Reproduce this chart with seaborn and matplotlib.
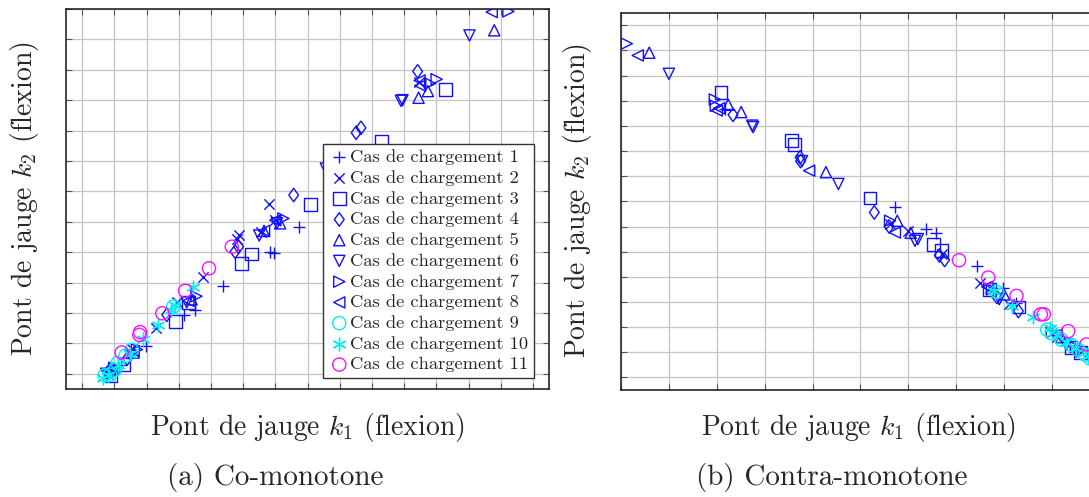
import matplotlib
matplotlib.use("Agg")
import matplotlib.pyplot as plt
from matplotlib.markers import MarkerStyle
from matplotlib.path import Path
import seaborn as sns
import pandas as pd

# ---------------- data (grid-tick units) ----------------
labels = [f"Cas de chargement {i}" for i in range(1, 12)]

# (a) Co-monotone
co1_x = [6.75, 5.84, 5.96, 4.39, 3.51, 3.18, 1.99, 1.20, 0.90]
co1_y = [4.84, 4.00, 3.99, 2.90, 2.10, 1.94, 0.90, 0.30, 0.10]
co2_x = [10.47, 5.79, 6.00, 5.55, 4.86, 4.80, 3.74, 2.95, 2.30, 1.55, 1.00, 0.80]
co2_y = [9.60, 5.57, 5.05, 4.65, 4.56, 4.45, 3.20, 2.35, 1.50, 0.80, 0.20, 0.00]
co3_x = [11.28, 9.31, 7.09, 5.27, 4.96, 2.89, 3.30, 1.30, 0.90]
co3_y = [9.35, 7.63, 5.57, 3.94, 3.64, 1.72, 2.35, 0.30, -0.05]
co4_x = [10.42, 8.51, 8.66, 6.57, 4.86, 4.75, 2.63, 1.40, 0.80]
co4_y = [9.95, 7.93, 8.09, 5.88, 4.18, 4.02, 1.94, 0.50, 0.05]
co5_x = [12.80, 10.74, 10.45, 6.15, 5.65, 3.40, 1.60, 0.90]
co5_y = [11.30, 9.30, 9.08, 4.95, 4.70, 2.45, 0.70, 0.10]
co6_x = [12.03, 9.90, 9.95, 7.57, 6.05, 5.50, 3.25, 1.50, 0.75]
co6_y = [11.13, 8.98, 9.00, 6.75, 4.95, 4.55, 2.35, 0.60, 0.00]
co7_x = [13.24, 11.01, 10.81, 6.25, 3.55, 1.70, 1.00]
co7_y = [11.92, 9.69, 9.55, 5.11, 2.55, 0.80, 0.20]
co8_x = [12.72, 10.48, 10.50, 6.00, 5.65, 3.30, 1.60, 0.85]
co8_y = [11.90, 9.65, 9.48, 5.05, 4.70, 2.40, 0.75, 0.10]
co9_x = [1.54, 1.35, 1.10, 1.02, 0.87, 0.70, 2.83]
co9_y = [0.79, 0.60, 0.35, 0.13, -0.03, -0.05, 2.21]
co10_x = [3.43, 2.89, 2.75, 2.37, 1.90, 1.50, 1.10, 0.80, 0.65]
co10_y = [2.87, 2.27, 2.10, 1.61, 1.15, 0.65, 0.30, -0.05, -0.15]
co11_x = [4.65, 3.94, 3.20, 2.49, 1.78, 1.80, 1.23]
co11_y = [4.18, 3.47, 2.73, 1.99, 1.28, 1.37, 0.70]

# (b) Contra-monotone
ct1_x = [2.17, 5.72, 6.38, 6.58, 7.44, 7.98, 8.25, 9.00]
ct1_y = [10.68, 6.76, 5.92, 5.74, 4.41, 3.57, 2.95, 1.90]
ct2_x = [5.62, 6.00, 6.70, 7.49, 7.70, 8.10, 9.10, 9.60]
ct2_y = [6.10, 5.83, 4.90, 3.77, 3.55, 2.90, 1.60, 1.00]
ct3_x = [2.09, 3.56, 3.62, 5.20, 6.52, 6.69, 7.70, 8.30, 9.40, 9.60]
ct3_y = [11.34, 9.41, 9.25, 7.13, 5.30, 5.03, 3.51, 2.80, 1.20, 1.00]
ct4_x = [2.34, 3.74, 3.75, 5.29, 5.60, 6.65, 6.76, 7.85, 8.30, 9.50]
ct4_y = [10.44, 8.75, 8.60, 6.56, 6.00, 4.85, 4.67, 3.20, 2.64, 1.10]
ct5_x = [0.59, 2.24, 2.51, 4.28, 5.77, 6.05, 8.00, 9.20]
ct5_y = [12.91, 10.84, 10.55, 8.16, 6.23, 5.75, 3.30, 1.60]
ct6_x = [1.00, 2.74, 2.76, 3.78, 4.54, 6.14, 6.20, 7.90, 9.30]
ct6_y = [12.07, 10.01, 9.95, 8.60, 7.69, 5.43, 5.50, 3.11, 1.30]
ct7_x = [0.12, 1.96, 1.98, 5.62, 7.75, 9.00, 9.50]
ct7_y = [13.27, 11.05, 10.80, 6.23, 3.50, 1.80, 1.20]
ct8_x = [0.35, 2.00, 2.05, 3.93, 5.72, 7.65, 9.10]
ct8_y = [12.80, 10.61, 10.70, 8.22, 5.76, 3.60, 1.70]
ct9_x = [7.85, 8.90, 9.00, 9.20, 9.40, 9.55, 9.70, 9.80]
ct9_y = [3.40, 1.90, 1.75, 1.50, 1.30, 1.10, 0.90, 0.75]
ct10_x = [8.16, 8.61, 7.80, 8.95, 9.10, 9.30, 9.50, 9.75]
ct10_y = [2.84, 2.40, 3.45, 1.95, 1.70, 1.40, 1.15, 0.85]
ct11_x = [7.06, 7.67, 8.26, 8.77, 8.83, 9.34, 9.72]
ct11_y = [4.66, 3.97, 3.24, 2.51, 2.51, 1.84, 1.31]

co_xs = [co1_x, co2_x, co3_x, co4_x, co5_x, co6_x, co7_x, co8_x, co9_x, co10_x, co11_x]
co_ys = [co1_y, co2_y, co3_y, co4_y, co5_y, co6_y, co7_y, co8_y, co9_y, co10_y, co11_y]
ct_xs = [ct1_x, ct2_x, ct3_x, ct4_x, ct5_x, ct6_x, ct7_x, ct8_x, ct9_x, ct10_x, ct11_x]
ct_ys = [ct1_y, ct2_y, ct3_y, ct4_y, ct5_y, ct6_y, ct7_y, ct8_y, ct9_y, ct10_y, ct11_y]

# ---------------- styles ----------------
BLUE, CYAN, MAG = "#1010ff", "#00f0f0", "#ff10ff"
colors = [BLUE] * 8 + [CYAN, CYAN, MAG]
diamond = Path([(0, 1), (0.72, 0), (0, -1), (-0.72, 0), (0, 1)],
               [Path.MOVETO, Path.LINETO, Path.LINETO, Path.LINETO, Path.CLOSEPOLY])
markers = ["+", "x", "s", diamond, "^", "v", ">", "<", "o", (6, 2, 0), "o"]
sizes = [85, 55, 85, 95, 65, 65, 65, 65, 90, 85, 90]

sns.set_theme(style="ticks")
plt.rcParams["font.family"] = ["cmr10", "DejaVu Serif"]
plt.rcParams["mathtext.fontset"] = "cm"
plt.rcParams["axes.unicode_minus"] = False

fig = plt.figure(figsize=(10.89, 4.97), dpi=100)
axA = fig.add_axes([66 / 1089, 1 - 389 / 497, (549 - 66) / 1089, (389 - 9) / 497])
axB = fig.add_axes([621 / 1089, 1 - 390 / 497, (1095 - 621) / 1089, (390 - 12.7) / 497])


def mk(m):
    if isinstance(m, str) and m in ("+", "x"):
        return m
    if isinstance(m, tuple):
        return m
    return MarkerStyle(m, fillstyle="none")


def draw(ax, xs, ys):
    for i in range(11):
        df = pd.DataFrame({"x": xs[i], "y": ys[i]})
        sns.scatterplot(data=df, x="x", y="y", ax=ax, marker=mk(markers[i]),
                        color=colors[i], s=sizes[i], linewidth=1.0,
                        label=labels[i], legend=False, zorder=3)


draw(axA, co_xs, co_ys)
draw(axB, ct_xs, ct_ys)

axA.set_xlim(-0.5, 14.5)
axA.set_ylim(-0.5, 12)
axA.set_xticks(range(0, 15))
axA.set_yticks(range(0, 13))
axB.set_xlim(0, 9.9)
axB.set_ylim(-0.5, 14.5)
axB.set_xticks(range(0, 10))
axB.set_yticks(range(0, 15))

for ax in (axA, axB):
    ax.set_xlabel("")
    ax.set_ylabel("")
    ax.grid(True, color="#c4c4c4", linewidth=0.9, zorder=0)
    ax.set_axisbelow(True)
    ax.tick_params(direction="in", length=4, width=0.8, color="#555555",
                   labelbottom=False, labelleft=False, top=True, right=True)
    for sp in ax.spines.values():
        sp.set_visible(True)
        sp.set_color("#262626")
        sp.set_linewidth(1.2)

leg = axA.legend(loc="lower right", bbox_to_anchor=(0.969, 0.029), borderaxespad=0,
                 fontsize=13.3, handletextpad=0.0, handlelength=1.2, borderpad=0.3,
                 labelspacing=0.26, frameon=True, fancybox=False, framealpha=1,
                 edgecolor="#333333")
leg.get_frame().set_linewidth(1.0)

FS = 20
fig.text(307.5 / 1089, 1 - 427 / 497, r"Pont de jauge $k_1$ (flexion)", ha="center", va="center", fontsize=FS)
fig.text(858 / 1089, 1 - 427 / 497, r"Pont de jauge $k_1$ (flexion)", ha="center", va="center", fontsize=FS)
fig.text(25 / 1089, 1 - 199 / 497, r"Pont de jauge $k_2$ (flexion)", ha="center", va="center", fontsize=FS, rotation=90)
fig.text(578 / 1089, 1 - 201 / 497, r"Pont de jauge $k_2$ (flexion)", ha="center", va="center", fontsize=FS, rotation=90)
fig.text(275 / 1089, 1 - 478 / 497, "(a) Co-monotone", ha="center", va="center", fontsize=21)
fig.text(832 / 1089, 1 - 478 / 497, "(b) Contra-monotone", ha="center", va="center", fontsize=21)

fig.savefig("out.png", dpi=100)
